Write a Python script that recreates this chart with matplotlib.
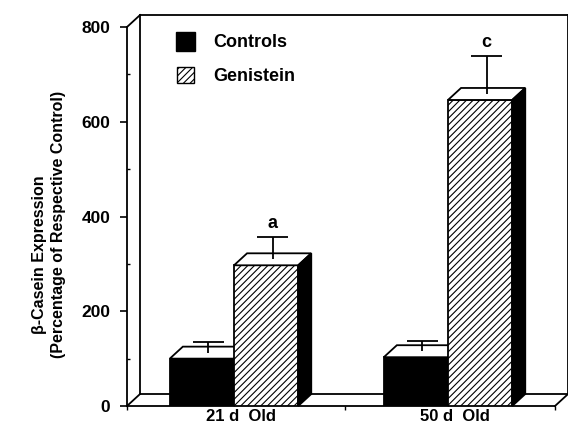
import matplotlib
matplotlib.use("Agg")
import matplotlib.pyplot as plt
from matplotlib.patches import Polygon, Rectangle
import numpy as np

GROUPS = ['21 d  Old', '50 d  Old']
CONTROLS = [100, 103]
CONTROLS_ERR = [22, 21]
GENISTEIN = [297, 646]
GENISTEIN_ERR = [47, 81]
LETTERS = ['', 'a', '', 'c']

plt.rcParams['font.family'] = ['Liberation Sans', 'DejaVu Sans']
plt.rcParams['font.weight'] = 'bold'
plt.rcParams['hatch.linewidth'] = 0.8

WIDTH = 0.3
DX = 0.061   # depth offset in x units
DY = 25.3    # depth offset in y units
CAP = 0.073  # half width of error caps, x units
XMIN, XMAX = -0.5, 1.5
YMAX = 800


def box_faces(ax, x0, x1, v, side_color, z):
    # top face
    top = Polygon([(x0, v), (x1, v), (x1 + DX, v + DY), (x0 + DX, v + DY)],
                  closed=True, facecolor='white', edgecolor='black',
                  linewidth=1.3, zorder=z, clip_on=False)
    ax.add_patch(top)
    # right side face
    side = Polygon([(x1, 0), (x1, v), (x1 + DX, v + DY), (x1 + DX, DY)],
                   closed=True, facecolor=side_color, edgecolor='black',
                   linewidth=1.3, zorder=z, clip_on=False)
    ax.add_patch(side)


fig = plt.figure(figsize=(5.68, 4.29), dpi=100)
ax = fig.add_axes([127 / 568, 23 / 429, 428 / 568, 379 / 429])
ax.set_xlim(XMIN, XMAX)
ax.set_ylim(0, YMAX)

x = np.arange(len(GROUPS))

# back wall and floor
lk = dict(color='black', linewidth=1.3, zorder=1, clip_on=False)
ax.plot([XMIN + DX, XMIN + DX], [DY, YMAX + DY], **lk)
ax.plot([XMIN + DX, XMAX + DX], [YMAX + DY, YMAX + DY], **lk)
ax.plot([XMAX + DX, XMAX + DX], [DY, YMAX + DY], **lk)
ax.plot([XMIN + DX, XMAX + DX], [DY, DY], **lk)
ax.plot([XMIN, XMIN + DX], [0, DY], **lk)
ax.plot([XMAX, XMAX + DX], [0, DY], **lk)
ax.plot([XMIN, XMIN + DX], [YMAX, YMAX + DY], **lk)

# bars
xc = x - WIDTH / 2
xg = x + WIDTH / 2
ax.bar(xc, CONTROLS, WIDTH, color='black', edgecolor='black', linewidth=1.3, zorder=3)
for i in range(len(GROUPS)):
    box_faces(ax, xc[i] - WIDTH / 2, xc[i] + WIDTH / 2, CONTROLS[i], 'black', 3)
ax.bar(xg, GENISTEIN, WIDTH, color='white', edgecolor='black', hatch='/////',
       linewidth=1.3, zorder=4)
for i in range(len(GROUPS)):
    box_faces(ax, xg[i] - WIDTH / 2, xg[i] + WIDTH / 2, GENISTEIN[i], 'black', 4)

# error bars (upper only), from the middle of the top face
for pos, vals, errs in [(xc, CONTROLS, CONTROLS_ERR), (xg, GENISTEIN, GENISTEIN_ERR)]:
    vals = np.array(vals)
    errs = np.array(errs)
    ex = pos + DX / 2
    ax.vlines(ex, vals + DY / 2, vals + errs + DY / 2, color='black',
              linewidth=1.3, zorder=5)
    ax.hlines(vals + errs + DY / 2, ex - CAP, ex + CAP, color='black',
              linewidth=1.3, zorder=5)

# significance letters
allpos = [xc[0], xg[0], xc[1], xg[1]]
allv = [CONTROLS[0], GENISTEIN[0], CONTROLS[1], GENISTEIN[1]]
alle = [CONTROLS_ERR[0], GENISTEIN_ERR[0], CONTROLS_ERR[1], GENISTEIN_ERR[1]]
for p, v, e, t in zip(allpos, allv, alle, LETTERS):
    if t:
        ax.annotate(t, (p + DX / 2, v + e + DY / 2), xytext=(0, 6.5),
                    textcoords='offset points', ha='center', va='baseline',
                    fontsize=13, fontweight='bold', zorder=6)

# axes styling
for s in ['top', 'right']:
    ax.spines[s].set_visible(False)
ax.spines['left'].set_linewidth(1.3)
ax.spines['bottom'].set_linewidth(1.3)
ax.spines['left'].set_zorder(2)
ax.spines['bottom'].set_zorder(2)

ax.set_yticks([0, 200, 400, 600, 800])
ax.set_yticks([100, 300, 500, 700], minor=True)
ax.tick_params(axis='y', which='major', direction='out', length=5, width=1.2,
               pad=7, labelsize=12.5)
ax.tick_params(axis='y', which='minor', direction='in', length=2, width=1)

ax.set_xticks(x + DX / 2)
ax.set_xticklabels(GROUPS)
ax.set_xticks([XMIN, 0.5 + DX / 3, XMAX], minor=True)
ax.tick_params(axis='x', which='major', length=0, pad=2, labelsize=12)
ax.tick_params(axis='x', which='minor', direction='out', length=3, width=1)

# legend
tr = ax.transAxes
ax.add_patch(Rectangle((0.1367 - 0.0222, 0.9617 - 0.025), 0.0444, 0.050,
                       transform=tr, facecolor='black', edgecolor='black',
                       clip_on=False, zorder=6))
ax.add_patch(Rectangle((0.1367 - 0.0199, 0.8734 - 0.0211), 0.0397, 0.0422,
                       transform=tr, facecolor='white', edgecolor='black',
                       hatch='/////', linewidth=1.0, clip_on=False, zorder=6))
ax.text(0.2009, 0.9578, 'Controls', transform=tr, ha='left', va='center',
        fontsize=13, fontweight='bold')
ax.text(0.2009, 0.8707, 'Genistein', transform=tr, ha='left', va='center',
        fontsize=13, fontweight='bold')

# y labels
fig.text(40 / 568, (429 - 255) / 429, '\u03b2-Casein Expression', rotation=90,
         ha='center', va='center', fontsize=11.5, fontweight='bold')
fig.text(58 / 568, (429 - 224) / 429, '(Percentage of Respective Control)',
         rotation=90, ha='center', va='center', fontsize=11.5, fontweight='bold')

fig.savefig('out.png', dpi=100)
